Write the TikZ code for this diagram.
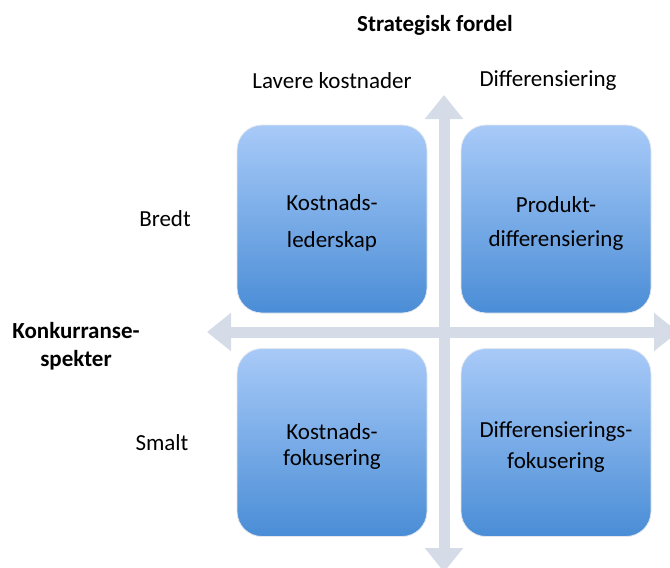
\documentclass[tikz,border=0pt]{standalone}
\usepackage{fontspec}
\setmainfont{Carlito}
\usetikzlibrary{arrows.meta}
\definecolor{axisgrey}{HTML}{D5DCE8}
\definecolor{boxtop}{HTML}{A8CAF8}
\definecolor{boxbottom}{HTML}{4A8DD6}
\definecolor{boxrim}{HTML}{E4E8EE}
\begin{document}
\begin{tikzpicture}[x=1pt,y=-1pt,
  every node/.style={font=\fontsize{23}{28}\selectfont, text=black},
  quadrant/.style={rounded corners=25pt, minimum width=190pt, minimum height=188pt,
    top color=boxtop, bottom color=boxbottom, draw=boxrim, line width=0.8pt, inner sep=0pt},
  boxtext/.style={align=center, inner sep=0pt},
  axis/.style={draw=axisgrey, line width=11pt,
    {Triangle[width=37pt,length=24pt]}-{Triangle[width=37pt,length=24pt]}},
  heading/.style={font=\bfseries\fontsize{23}{28}\selectfont, align=center}]
\useasboundingbox (0,0) rectangle (670,568);

% axis end points
\coordinate (up) at (444,95);
\coordinate (down) at (444,572);
\coordinate (left) at (207,332);
\coordinate (right) at (678,332);

% axes
\draw[axis] (left) -- (right);
\draw[axis] (down) -- (up);

% quadrants
\node[quadrant] (tl) at (332,219) {};
\node[quadrant] (tr) at (556,219) {};
\node[quadrant] (bl) at (332,442.5) {};
\node[quadrant] (br) at (556,442.5) {};

% quadrant texts
\node[boxtext] (tltext) at ([yshift=-4pt]tl.center) {Kostnads-\\[9pt]lederskap};
\node[boxtext] (trtext) at ([yshift=-4pt]tr.center) {Produkt-\\[6pt]differensiering};
\node[boxtext] (bltext) at ([yshift=-4pt]bl.center) {Kostnads-\\[-2pt]fokusering};
\node[boxtext] (brtext) at ([yshift=-5pt]br.center) {Differensierings-\\[3pt]fokusering};

% labels
\node[heading] (title) at (435,25) {Strategisk fordel};
\node (low) at (332,81) {Lavere kostnader};
\node (diff) at (548,81) {Differensiering};
\node (broad) at (165,219) {Bredt};
\node (narrow) at (162,443) {Smalt};
\node[heading] (scope) at (76,346) {Konkurranse-\\[0pt]spekter};
\end{tikzpicture}
\end{document}
